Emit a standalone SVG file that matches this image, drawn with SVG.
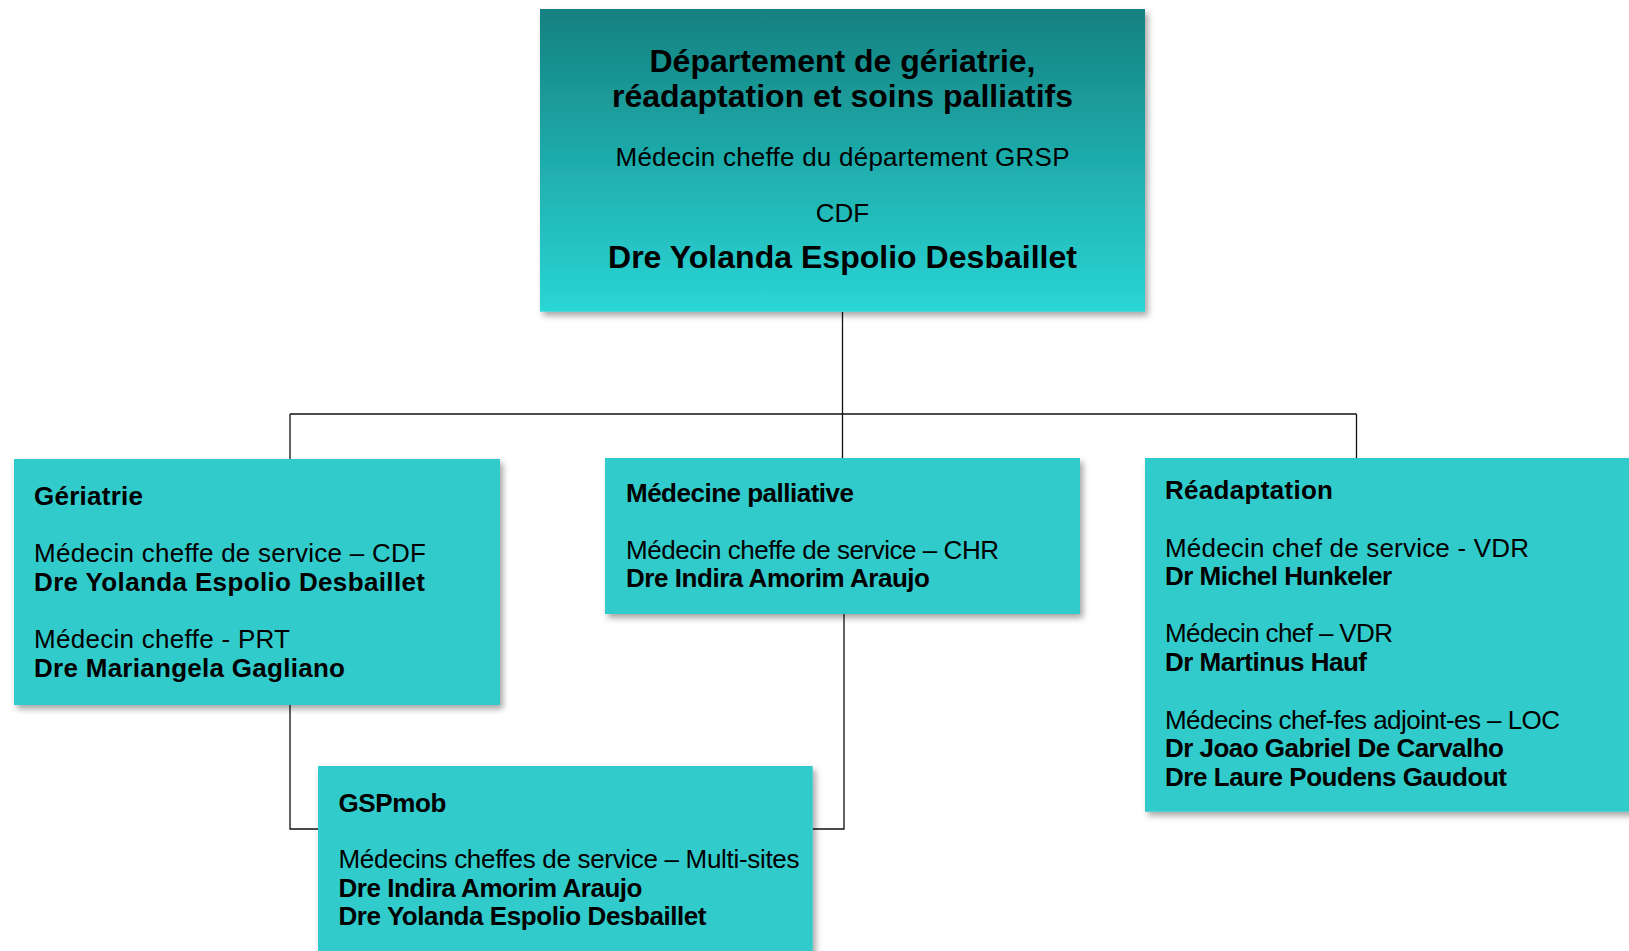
<svg xmlns="http://www.w3.org/2000/svg" width="1629" height="951" viewBox="0 0 1629 951">
<defs>
<linearGradient id="topGrad" x1="0" y1="0" x2="0" y2="1">
<stop offset="0" stop-color="#148180"/>
<stop offset="1" stop-color="#2AD6D6"/>
</linearGradient>
<filter id="shadow" x="-5%" y="-5%" width="115%" height="120%">
<feDropShadow dx="3" dy="4" stdDeviation="3" flood-color="#000" flood-opacity="0.35"/>
</filter>
</defs>
<style>
.box{fill:#33CBCB;filter:url(#shadow)}
.top{fill:url(#topGrad);filter:url(#shadow)}
text{font-family:"Liberation Sans",Arial,sans-serif;fill:#000;font-size:26px}
.b{font-weight:bold}
.big{font-size:32px;font-weight:bold}
.c{text-anchor:middle}
.conn{fill:none;stroke:#111;stroke-width:1.3}
</style>
<rect width="1629" height="951" fill="#fff"/>
<g id="connectors" class="conn">
<path d="M842.5 312 V414"/>
<path d="M290 414 H1356.5"/>
<path d="M290 414 V459"/>
<path d="M842.5 414 V458"/>
<path d="M1356.5 414 V458"/>
<path d="M290 705 V829 H318"/>
<path d="M844 614 V829 H812.7"/>
</g>
<g id="node-departement">
<rect class="top" x="540" y="9" width="605" height="302.7"/>
<text class="big c" x="842.5" y="72" textLength="386">Département de gériatrie,</text>
<text class="big c" x="842.5" y="107" textLength="461">réadaptation et soins palliatifs</text>
<text class="c" x="842.5" y="166" textLength="454">Médecin cheffe du département GRSP</text>
<text class="c" x="842.5" y="222">CDF</text>
<text class="big c" x="842.5" y="268" textLength="469">Dre Yolanda Espolio Desbaillet</text>
</g>
<g id="node-geriatrie">
<rect class="box" x="14" y="459" width="486" height="246"/>
<text class="b" x="34" y="505" textLength="109">Gériatrie</text>
<text x="34" y="562" textLength="392">Médecin cheffe de service – CDF</text>
<text class="b" x="34" y="591" textLength="391">Dre Yolanda Espolio Desbaillet</text>
<text x="34" y="648" textLength="256">Médecin cheffe - PRT</text>
<text class="b" x="34" y="677" textLength="311">Dre Mariangela Gagliano</text>
</g>
<g id="node-palliative">
<rect class="box" x="605" y="458" width="475" height="156"/>
<text class="b" x="626" y="502" textLength="228">Médecine palliative</text>
<text x="626" y="559" textLength="373">Médecin cheffe de service – CHR</text>
<text class="b" x="626" y="587" textLength="304">Dre Indira Amorim Araujo</text>
</g>
<g id="node-readaptation">
<rect class="box" x="1145" y="458" width="490" height="353.7"/>
<text class="b" x="1165" y="499" textLength="168">Réadaptation</text>
<text x="1165" y="557" textLength="364">Médecin chef de service - VDR</text>
<text class="b" x="1165" y="585" textLength="227">Dr Michel Hunkeler</text>
<text x="1165" y="642" textLength="228">Médecin chef – VDR</text>
<text class="b" x="1165" y="671" textLength="202">Dr Martinus Hauf</text>
<text x="1165" y="729" textLength="395">Médecins chef-fes adjoint-es – LOC</text>
<text class="b" x="1165" y="757" textLength="339">Dr Joao Gabriel De Carvalho</text>
<text class="b" x="1165" y="786" textLength="342">Dre Laure Poudens Gaudout</text>
</g>
<g id="node-gspmob">
<rect class="box" x="318" y="766" width="494.7" height="200"/>
<text class="b" x="338.5" y="812" textLength="108">GSPmob</text>
<text x="338.5" y="868" textLength="461">Médecins cheffes de service – Multi-sites</text>
<text class="b" x="338.5" y="897" textLength="304">Dre Indira Amorim Araujo</text>
<text class="b" x="338.5" y="925" textLength="368">Dre Yolanda Espolio Desbaillet</text>
</g>
</svg>
